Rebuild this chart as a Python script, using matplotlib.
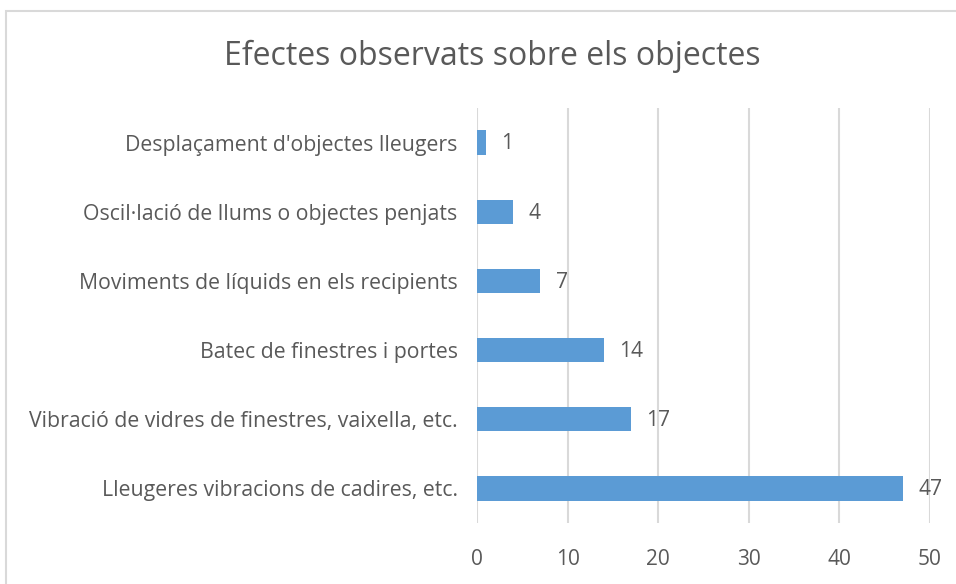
import matplotlib.pyplot as plt
from matplotlib.patches import Rectangle

categories = [
    "Lleugeres vibracions de cadires, etc.",
    "Vibració de vidres de finestres, vaixella, etc.",
    "Batec de finestres i portes",
    "Moviments de líquids en els recipients",
    "Oscil·lació de llums o objectes penjats",
    "Desplaçament d'objectes lleugers",
]
values = [47, 17, 14, 7, 4, 1]
xticks = [0, 10, 20, 30, 40, 50]

plt.rcParams["font.family"] = ["Open Sans", "DejaVu Sans"]
text_color = "#595959"
grid_color = "#D9D9D9"

fig = plt.figure(figsize=(9.56, 5.84), dpi=100)
ax = fig.add_axes([477 / 956, 1 - 523 / 584, (930 - 477) / 956, (523 - 108) / 584])

ypos = range(len(categories))
ax.barh(ypos, values, height=0.35, color="#5B9BD5", zorder=3)
for y, v in zip(ypos, values):
    ax.annotate(str(v), (v, y), xytext=(11, -1), textcoords="offset points",
                va="center", ha="left", fontsize=15, color=text_color)

ax.set_xlim(0, 50)
ax.set_ylim(-0.5, len(categories) - 0.5)
ax.set_xticks(xticks)
ax.set_yticks(list(ypos))
ax.set_yticklabels(categories)
ax.tick_params(axis="x", length=0, pad=19, labelsize=15, labelcolor=text_color)
ax.tick_params(axis="y", length=0, pad=14, labelsize=15.3, labelcolor=text_color)
ax.grid(axis="x", color=grid_color, lw=1.5, zorder=0)
for s in ax.spines.values():
    s.set_visible(False)

fig.text(492 / 956, 1 - 56 / 584, "Efectes observats sobre els objectes",
         ha="center", va="center", fontsize=23, color=text_color)

fig.add_artist(Rectangle((6 / 956, -0.1), 2, (584 - 11) / 584 + 0.1,
                         transform=fig.transFigure, fill=False,
                         edgecolor=grid_color, lw=1.5))

fig.savefig("out.png", dpi=100)
